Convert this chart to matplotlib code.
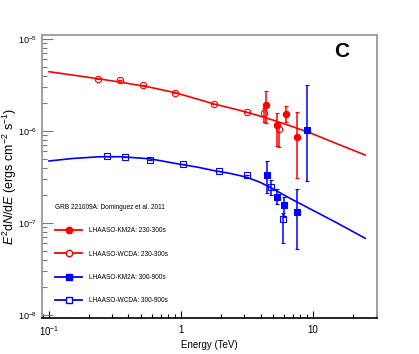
import matplotlib
matplotlib.use("Agg")
import matplotlib.pyplot as plt
from matplotlib.lines import Line2D
import numpy as np

plt.rcParams['font.family'] = ['Liberation Sans', 'DejaVu Sans']
plt.rcParams['mathtext.fontset'] = 'custom'
plt.rcParams['mathtext.rm'] = 'Liberation Sans'
plt.rcParams['mathtext.it'] = 'Liberation Sans:italic'
plt.rcParams['mathtext.bf'] = 'Liberation Sans:bold'

# ---- model curves ----
curve_E = [0.1, 0.15, 0.238, 0.35, 0.582, 0.90, 1.35, 1.79, 2.4, 3.15, 3.97, 5.0, 6.70, 10.0, 15.0, 24.8]
red_curve = [4.41e-6, 4.06e-6, 3.69e-6, 3.39e-6, 2.99e-6, 2.61e-6, 2.21e-6, 1.96e-6,
             1.77e-6, 1.60e-6, 1.45e-6, 1.31e-6, 1.14e-6, 9.27e-7, 7.31e-7, 5.48e-7]
blue_curve = [4.72e-7, 5.02e-7, 5.24e-7, 5.25e-7, 4.98e-7, 4.45e-7, 4.03e-7, 3.70e-7,
              3.44e-7, 3.14e-7, 2.77e-7, 2.34e-7, 1.85e-7, 1.37e-7, 1.01e-7, 6.82e-8]

# ---- data points ----
km2a_230_E = [4.40, 5.33, 6.24, 7.53]
km2a_230_F = [1.92e-6, 1.16e-6, 1.53e-6, 8.67e-7]
km2a_230_lo = [1.23e-6, 6.87e-7, 1.26e-6, 3.10e-7]
km2a_230_hi = [2.74e-6, 1.56e-6, 1.87e-6, 1.60e-6]

wcda_230_E = [0.236, 0.345, 0.513, 0.90, 1.79, 3.16, 4.23, 5.55]
wcda_230_F = [3.65e-6, 3.56e-6, 3.16e-6, 2.59e-6, 1.95e-6, 1.60e-6, 1.58e-6, 1.05e-6]
wcda_230_lo = [3.65e-6, 3.56e-6, 3.16e-6, 2.59e-6, 1.95e-6, 1.60e-6, 1.26e-6, 6.75e-7]
wcda_230_hi = [3.65e-6, 3.56e-6, 3.16e-6, 2.59e-6, 1.95e-6, 1.60e-6, 1.80e-6, 1.26e-6]

km2a_300_E = [4.46, 5.31, 6.06, 7.61, 9.06]
km2a_300_F = [3.33e-7, 1.93e-7, 1.57e-7, 1.33e-7, 1.03e-6]
km2a_300_lo = [2.10e-7, 1.60e-7, 1.17e-7, 5.18e-8, 2.88e-7]
km2a_300_hi = [4.72e-7, 2.34e-7, 1.93e-7, 2.34e-7, 3.16e-6]

wcda_300_E = [0.277, 0.377, 0.585, 1.04, 1.94, 3.15, 4.78, 5.96]
wcda_300_F = [5.35e-7, 5.21e-7, 4.81e-7, 4.42e-7, 3.67e-7, 3.35e-7, 2.48e-7, 1.10e-7]
wcda_300_lo = [5.35e-7, 5.21e-7, 4.81e-7, 4.42e-7, 3.67e-7, 3.35e-7, 2.01e-7, 6.10e-8]
wcda_300_hi = [5.35e-7, 5.21e-7, 4.81e-7, 4.42e-7, 3.67e-7, 3.35e-7, 2.93e-7, 1.27e-7]

legend_title = "GRB 221009A: Dominguez et al. 2011"
labels = ["LHAASO-KM2A: 230-300s", "LHAASO-WCDA: 230-300s",
          "LHAASO-KM2A: 300-900s", "LHAASO-WCDA: 300-900s"]

RED = '#ff0000'
BLUE = '#0000ff'

fig = plt.figure(figsize=(4.19, 3.54), dpi=100)
ax = fig.add_axes([0.1002, 0.1009, 0.7996, 0.8011])
ax.set_xscale('log')
ax.set_yscale('log')
ax.set_xlim(0.0885, 30.5)
ax.set_ylim(9.2e-9, 1.114e-5)

ax.plot(curve_E, red_curve, color=RED, lw=1.2, zorder=2)
ax.plot(curve_E, blue_curve, color=BLUE, lw=1.2, zorder=2)

def eb(E, F, lo, hi, color, marker, filled, z):
    F = np.array(F); lo = np.array(lo); hi = np.array(hi)
    yerr = [F - lo, hi - F]
    ax.errorbar(E, F, yerr=yerr, fmt=marker, color=color, ms=4.6 if marker == 'o' else 4.4,
                mfc=color if filled else 'none', mec=color, mew=0.8,
                elinewidth=1.1, capsize=1.2, capthick=0.8, zorder=z)

eb(wcda_230_E, wcda_230_F, wcda_230_lo, wcda_230_hi, RED, 'o', False, 3)
eb(wcda_300_E, wcda_300_F, wcda_300_lo, wcda_300_hi, BLUE, 's', False, 3)
eb(km2a_230_E, km2a_230_F, km2a_230_lo, km2a_230_hi, RED, 'o', True, 4)
eb(km2a_300_E, km2a_300_F, km2a_300_lo, km2a_300_hi, BLUE, 's', True, 5)

handles = [
    Line2D([], [], color=RED, marker='o', ms=4.6, mfc=RED, lw=1.3),
    Line2D([], [], color=RED, marker='o', ms=4.6, mfc='white', lw=1.3),
    Line2D([], [], color=BLUE, marker='s', ms=4.4, mfc=BLUE, lw=1.3),
    Line2D([], [], color=BLUE, marker='s', ms=4.4, mfc='white', lw=1.3),
]
leg = ax.legend(handles, labels, title=legend_title, loc='upper left',
                bbox_to_anchor=(0.040, 0.403), frameon=False, fontsize=4.7,
                title_fontsize=4.7, alignment='left', borderpad=0, borderaxespad=0,
                labelspacing=2.5, handlelength=4.1, handletextpad=1.0)

ax.text(0.895, 0.94, 'C', transform=ax.transAxes, fontsize=15, fontweight='bold',
        ha='center', va='center')

ax.set_xticks([0.1, 1, 10])
ax.set_xticklabels([r'$\mathdefault{10^{-1}}$', '1', '10'])
ax.set_yticks([1e-8, 1e-7, 1e-6, 1e-5])
ax.set_yticklabels([r'$\mathdefault{10^{-8}}$', r'$\mathdefault{10^{-7}}$',
                    r'$\mathdefault{10^{-6}}$', r'$\mathdefault{10^{-5}}$'])

ax.tick_params(axis='x', which='major', direction='in', length=5.3, width=0.8,
               labelsize=7, pad=4.5, top=False)
ax.tick_params(axis='x', which='minor', direction='in', length=2.9, width=0.8, top=False)
ax.tick_params(axis='y', which='major', direction='in', length=7.7, width=0.8,
               labelsize=6.5, pad=3.5, right=False, color='#777777')
ax.tick_params(axis='y', which='minor', direction='in', length=3.8, width=0.8,
               right=False, color='#777777')

for s in ['top', 'right', 'left']:
    ax.spines[s].set_color('#999999')
    ax.spines[s].set_linewidth(1.3)
ax.spines['bottom'].set_color('black')
ax.spines['bottom'].set_linewidth(1.2)

ax.set_xlabel('Energy (TeV)', fontsize=7, labelpad=1)
ax.set_ylabel(r'$E^{2}$d$N$/d$E$ (ergs cm$^{-2}$ s$^{-1}$)', fontsize=9)
ax.yaxis.set_label_coords(-0.07, 0.5)

fig.savefig('out.png', dpi=100)
